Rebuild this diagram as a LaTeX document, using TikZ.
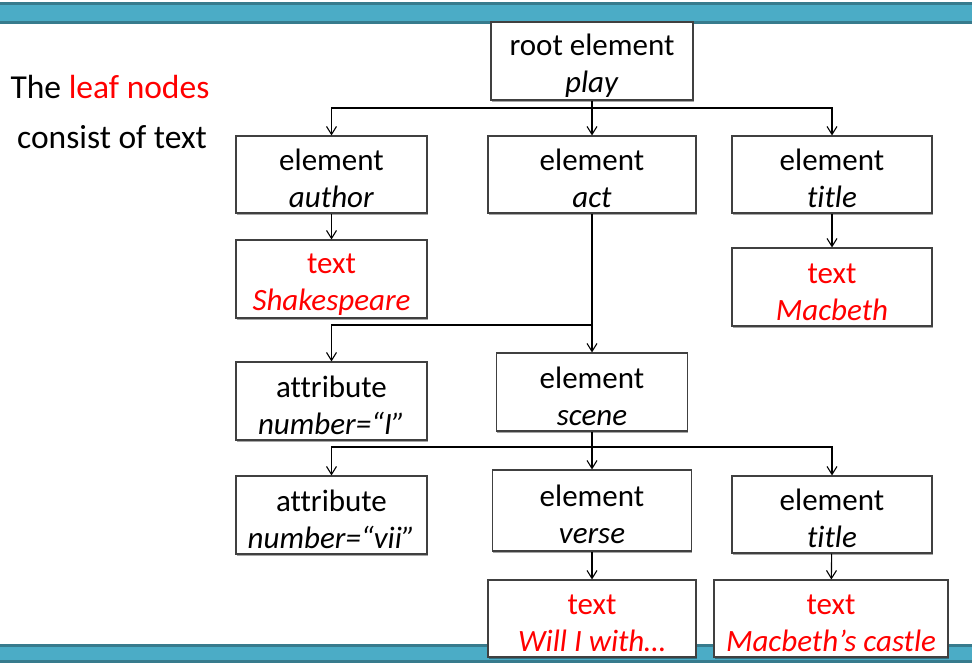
\documentclass[tikz,border=0pt]{standalone}
\usepackage{fontspec}
\setmainfont{Carlito}[Ligatures=NoCommon]
\usetikzlibrary{arrows.meta,shadows}
\definecolor{barteal}{HTML}{4BACC6}
\definecolor{bardark}{HTML}{377B8D}
\definecolor{boxgray}{gray}{0.25}
\definecolor{leafred}{HTML}{FF0000}

\begin{document}
\begin{tikzpicture}[
  x=1pt, y=-1pt,
  box/.style={draw=boxgray, line width=1.1pt, fill=white, minimum width=#1, minimum height=78pt,
    inner sep=0pt, align=center, font=\fontsize{31}{37}\selectfont, text height=67pt,
    drop shadow={shadow xshift=0.8pt, shadow yshift=-1.5pt, fill=black, opacity=0.35}},
  leafbox/.style={box=#1, text=leafred},
  note/.style={font=\fontsize{33.5}{40}\selectfont},
  arr/.style={-{Straight Barb[length=8pt,width=10pt]}, line width=1.1pt},
  line/.style={line width=1.1pt},
]
  \useasboundingbox (0,0) rectangle (972,667);
  % bars
  \fill[bardark] (0,2) rectangle (972,24);
  \fill[barteal] (0,5) rectangle (972,21);
  \fill[bardark] (0,644) rectangle (972,663);
  \fill[barteal] (0,647) rectangle (972,660);

  % left note
  \node[note] (leafnote) at (110,87) {The \textcolor{leafred}{leaf nodes}};
  \node[note] (textnote) at (112,137) {consist of text};

  % tree
  \node[box=202pt] (play) at (592,61) {root element\\\textit{play}};
  \node[box=191pt, minimum height=77pt] (author) at (331.5,174.5) {element\\\textit{author}};
  \node[box=208pt, minimum height=77pt] (act) at (592,174.5) {element\\\textit{act}};
  \node[box=200pt, minimum height=77pt] (title) at (832,174.5) {element\\\textit{title}};
  \node[leafbox=191pt] (shakespeare) at (331.5,279) {text\\\textit{Shakespeare}};
  \node[leafbox=200pt] (macbeth) at (832,287) {text\\\textit{Macbeth}};
  \node[box=191pt] (numone) at (331.5,401) {attribute\\\textit{number=``I''}};
  \node[box=191pt] (scene) at (592,392) {element\\\textit{scene}};
  \node[box=191pt] (numvii) at (331.5,515) {attribute\\\textit{number=``vii''}};
  \node[box=199pt, minimum height=81pt] (verse) at (592,510.5) {element\\\textit{verse}};
  \node[box=200pt, minimum height=77pt] (title2) at (832,514.5) {element\\\textit{title}};
  \node[leafbox=208pt, minimum height=77pt] (will) at (592,618.5) {text\\\textit{Will I with\ldots}};
  \node[leafbox=234pt, minimum height=77pt] (castle) at (831,618.5) {text\\\textit{Macbeth’s castle}};

  % connectors
  \coordinate (playbus) at (play.south |- 0,108);
  \draw[line] (play.south) -- (playbus);
  \draw[arr] (playbus) -| (author.north);
  \draw[arr] (playbus) -- (act.north);
  \draw[arr] (playbus) -| (title.north);
  \draw[arr] (author) -- (shakespeare);
  \draw[arr] (title) -- (macbeth);

  \coordinate (actbus) at (act.south |- 0,325);
  \draw[line] (act.south) -- (actbus);
  \draw[arr] (actbus) -| (numone.north);
  \draw[arr] (actbus) -- (scene.north);

  \coordinate (scenebus) at (scene.south |- 0,447);
  \draw[line] (scene.south) -- (scenebus);
  \draw[arr] (scenebus) -| (numvii.north);
  \draw[arr] (scenebus) -- (verse.north);
  \draw[arr] (scenebus) -| (title2.north);
  \draw[arr] (verse) -- (will);
  \draw[arr] (title2) -- (castle);
\end{tikzpicture}
\end{document}
